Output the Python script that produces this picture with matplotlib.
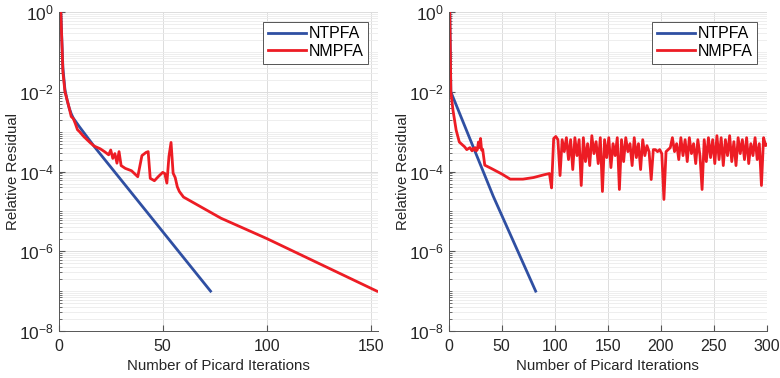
"""
    Picard convergence: relative residual vs iteration for NTPFA / NMPFA
"""

import numpy as np
import matplotlib
matplotlib.use("Agg")
import matplotlib.pyplot as plt
from matplotlib.ticker import LogLocator, FixedLocator

plt.rcParams['font.family'] = ['Liberation Sans', 'DejaVu Sans']
plt.rcParams['mathtext.fontset'] = 'custom'
plt.rcParams['mathtext.rm'] = 'Liberation Sans'
plt.rcParams['mathtext.it'] = 'Liberation Sans'

BLUE = '#2f4fa2'
RED = '#ed1c24'
TXT = '#262626'

# ---- case 1 (left) : log10 of residual ----
left_ntpfa_it = [1, 2, 3, 4, 5, 6, 7, 10, 17.5, 73]
left_ntpfa_lg = [0.0, -1.4, -1.95, -2.2, -2.4, -2.55, -2.66, -2.88, -3.4, -7.0]

left_nmpfa_it = [1, 2, 3, 4, 5, 6, 7, 8, 9, 10, 12, 15, 17, 20, 22, 24, 25, 26, 27, 28,
                 29, 30, 32, 35, 38, 40, 42, 43, 44, 46, 48, 50, 51, 52, 53, 54, 55,
                 56, 57, 58, 60, 78, 100, 153]
left_nmpfa_lg = [0.0, -1.5, -2.0, -2.2, -2.4, -2.62, -2.67, -2.8, -2.95, -3.0, -3.12,
                 -3.27, -3.36, -3.43, -3.5, -3.58, -3.46, -3.67, -3.55, -3.79, -3.5,
                 -3.85, -3.92, -3.98, -4.13, -3.6, -3.52, -3.5, -4.17, -4.23, -4.12,
                 -4.02, -4.05, -4.29, -3.62, -3.27, -4.04, -4.15, -4.38, -4.5, -4.64,
                 -5.17, -5.68, -7.0]

# ---- case 2 (right) ----
right_ntpfa_it = [1, 2, 42, 82]
right_ntpfa_lg = [0.0, -2.0, -4.62, -7.0]

right_nmpfa_it = [1, 2, 4, 7, 10, 13, 15, 17, 20, 22, 23, 24, 25, 26, 27, 28, 29, 30,
                  31, 32, 33, 34, 40, 50, 58, 70, 80, 90, 95, 97, 99]
right_nmpfa_lg = [0.0, -2.0, -2.46, -2.96, -3.26, -3.33, -3.38, -3.45, -3.4, -3.48,
                  -3.42, -3.46, -3.4, -3.48, -3.45, -3.26, -3.4, -3.17, -3.46, -3.44,
                  -3.63, -3.84, -3.92, -4.06, -4.19, -4.19, -4.15, -4.08, -4.05, -4.41,
                  -3.17]

# oscillating tail, iterations 101..301 step 2 (read by eye)
right_tail_it = list(range(101, 302, 2))
right_tail_lg = [-3.12, -3.2, -4.1, -3.2, -3.5, -3.15, -3.7, -3.2, -3.95, -3.15,
                 -3.6, -3.2, -4.35, -3.15, -3.75, -3.3, -3.85, -3.1, -3.55, -3.25,
                 -3.8, -3.15, -4.5, -3.2, -3.65, -3.15, -3.9, -3.3, -3.6, -3.15,
                 -4.45, -3.2, -3.75, -3.15, -3.5, -3.3, -3.85, -3.15, -3.65, -3.3,
                 -3.95, -3.2, -3.6, -3.35, -3.5, -4.2, -3.45, -3.45, -3.5, -3.45,
                 -3.55, -4.7, -3.5, -3.45, -3.4, -3.15, -3.5, -3.3, -3.7, -3.15,
                 -3.6, -3.2, -3.75, -3.15, -3.55, -3.3, -3.8, -3.2, -3.6, -4.45,
                 -3.2, -3.75, -3.15, -3.65, -3.2, -3.8, -3.1, -3.7, -3.15, -3.85,
                 -3.2, -3.6, -3.1, -3.75, -3.25, -3.85, -3.15, -3.55, -3.2, -3.7,
                 -3.15, -3.8, -3.3, -3.6, -3.15, -3.7, -3.3, -4.35, -3.15, -3.35,
                 -3.3]
right_tail_it = right_tail_it[:len(right_tail_lg)]

xticks_left = [0, 50, 100, 150]
xticks_right = [0, 50, 100, 150, 200, 250, 300]


def style_axes(ax, xmax, xticks):
    ax.set_yscale('log')
    ax.set_ylim(1e-8, 1)
    ax.set_xlim(0, xmax)
    ax.set_xticks(xticks)
    ax.yaxis.set_major_locator(FixedLocator([1e-8, 1e-6, 1e-4, 1e-2, 1e0]))
    ax.yaxis.set_minor_locator(LogLocator(base=10, subs=np.arange(1, 10), numticks=20))
    ax.yaxis.set_minor_formatter(plt.NullFormatter())
    ax.grid(True, which='major', color='#dcdcdc', lw=0.7)
    ax.grid(True, which='minor', axis='y', color='#ebebeb', lw=0.6)
    ax.set_axisbelow(True)
    ax.tick_params(direction='in', which='both', colors='#555555', labelcolor=TXT)
    ax.tick_params(axis='x', labelsize=11.5, pad=6)
    ax.tick_params(axis='y', labelsize=12.5)
    ax.tick_params(which='major', length=4)
    ax.tick_params(which='minor', length=2)
    ax.spines['top'].set_visible(False)
    ax.spines['right'].set_visible(False)
    for s in ('left', 'bottom'):
        ax.spines[s].set_color('#555555')
        ax.spines[s].set_linewidth(0.7)
    ax.set_xlabel("Number of Picard Iterations", fontsize=10.8, color=TXT, labelpad=3)
    ax.set_ylabel("Relative Residual", fontsize=10.8, color=TXT)
    ax.yaxis.set_label_coords(-0.122, 0.5)
    leg = ax.legend(loc='upper right', fontsize=11.5, fancybox=False, framealpha=1,
                    edgecolor='#555555', handlelength=2.4, borderpad=0.3,
                    labelspacing=0.15, handletextpad=0.15, borderaxespad=0.6)
    leg.get_frame().set_linewidth(0.7)


fig = plt.figure(figsize=(7.8, 3.78), dpi=100)
ax1 = fig.add_axes([0.0753, 0.1243, 0.409, 0.8437])
ax2 = fig.add_axes([0.5753, 0.1243, 0.4077, 0.8437])

ax1.plot(left_ntpfa_it, 10.0 ** np.array(left_ntpfa_lg), color=BLUE, lw=2, label='NTPFA')
ax1.plot(left_nmpfa_it, 10.0 ** np.array(left_nmpfa_lg), color=RED, lw=2, label='NMPFA')
style_axes(ax1, 153.4, xticks_left)

r_it = right_nmpfa_it + right_tail_it
r_lg = right_nmpfa_lg + right_tail_lg
ax2.plot(right_ntpfa_it, 10.0 ** np.array(right_ntpfa_lg), color=BLUE, lw=2, label='NTPFA')
ax2.plot(r_it, 10.0 ** np.array(r_lg), color=RED, lw=2, label='NMPFA')
style_axes(ax2, 300, xticks_right)

fig.savefig("out.png", dpi=100)
